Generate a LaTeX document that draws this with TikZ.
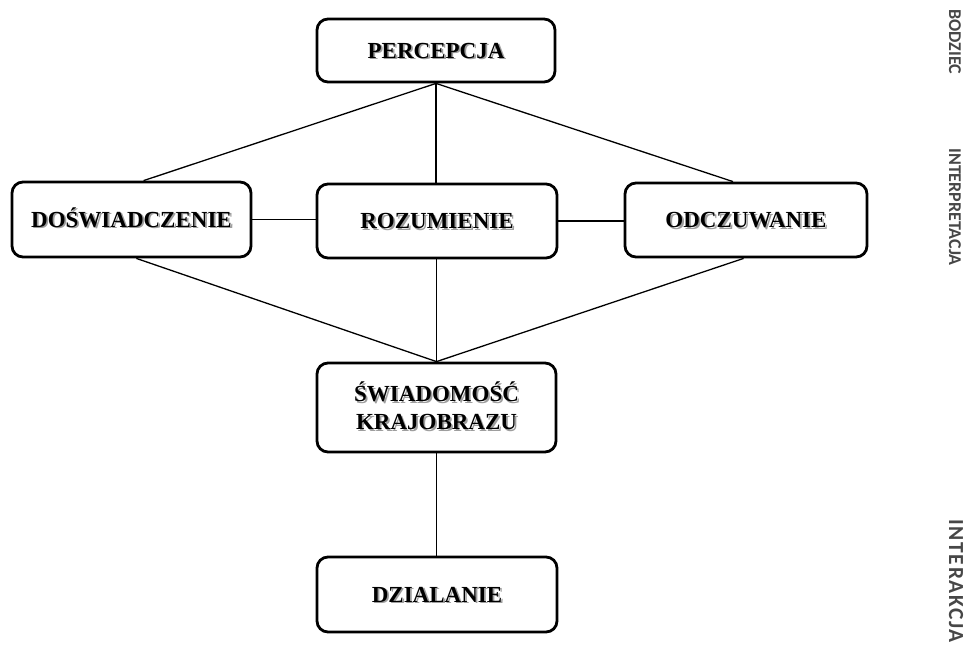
\documentclass[tikz,border=0pt]{standalone}
\usepackage{fontspec}
\setmainfont{Liberation Serif}
\newfontfamily\sidefont{Carlito}
\usetikzlibrary{calc}
\newcommand\shadowtext[1]{\leavevmode\rlap{\hspace{1.8pt}\raisebox{-1.8pt}{\color{black!38}#1}}#1}
\tikzset{
  box/.style={draw=black, line width=2.8pt, rounded corners=11pt, fill=white, inner sep=0pt},
  txt/.style={font=\fontsize{23}{28}\selectfont\bfseries, text=black, inner sep=0pt, text height=15.2pt, text depth=0pt},
  conn/.style={draw=black, line width=1.3pt},
  side/.style={font=\sidefont\fontsize{18}{20}\selectfont\bfseries, text=black!72, rotate=-90, inner sep=0pt},
  sidebig/.style={side, font=\sidefont\fontsize{21.5}{24}\selectfont\bfseries\addfontfeature{LetterSpace=8}}
}
\begin{document}
\begin{tikzpicture}[x=1pt,y=-1pt]
\useasboundingbox (0,0) rectangle (968,649);
% boxes
\node[box, minimum width=238pt, minimum height=63pt] (perc) at (436,50.5) {};
\node[box, minimum width=239pt, minimum height=75pt] (dos) at (131.5,219.5) {};
\node[box, minimum width=240pt, minimum height=74pt] (roz) at (437,221) {};
\node[box, minimum width=242pt, minimum height=74pt] (odc) at (746,220) {};
\node[box, minimum width=239pt, minimum height=89pt] (swi) at (436.5,407.5) {};
\node[box, minimum width=240pt, minimum height=75pt] (dzi) at (437,594.5) {};
% connector anchor points
\coordinate (pB) at (perc.south);
\coordinate (dT) at ($(dos.north west)!0.55!(dos.north east)$);
\coordinate (dB) at ($(dos.south west)!0.52!(dos.south east)$);
\coordinate (oT) at ($(odc.north west)!0.447!(odc.north east)$);
\coordinate (oB) at ($(odc.south west)!0.49!(odc.south east)$);
\coordinate (sT) at (swi.north);
% connectors
\draw[conn] (pB) -- (dT);
\draw[conn] (pB) -- (oT);
\draw[conn] (pB) -- (pB |- roz.north);
\draw[conn] (dos.east) -- (dos.east -| roz.west);
\draw[conn] (roz.east) -- (roz.east -| odc.west);
\draw[conn] (dB) -- (sT);
\draw[conn] (oB) -- (sT);
\draw[conn] (sT |- roz.south) -- (sT);
\draw[conn] (swi.south) -- (swi.south |- dzi.north);
% texts with shadow
\foreach \n/\t in {perc/PERCEPCJA, dos/DOŚWIADCZENIE, roz/ROZUMIENIE, odc/ODCZUWANIE, dzi/DZIALANIE}{
  \node[txt] (\n-t) at (\n.center) {\shadowtext{\t}};
}
\coordinate (l1) at ([yshift=13.6pt]swi.center);
\coordinate (l2) at ([yshift=-14.4pt]swi.center);
\node[txt] (swi-t1) at (l1) {\shadowtext{ŚWIADOMOŚĆ}};
\node[txt] (swi-t2) at (l2) {\shadowtext{KRAJOBRAZU}};
% side labels
\node[side] (bod) at (955,42) {BODZIEC};
\node[side] (int) at (955,207) {INTERPRETACJA};
\node[sidebig] (ira) at (956,581) {INTERAKCJA};
\end{tikzpicture}
\end{document}
